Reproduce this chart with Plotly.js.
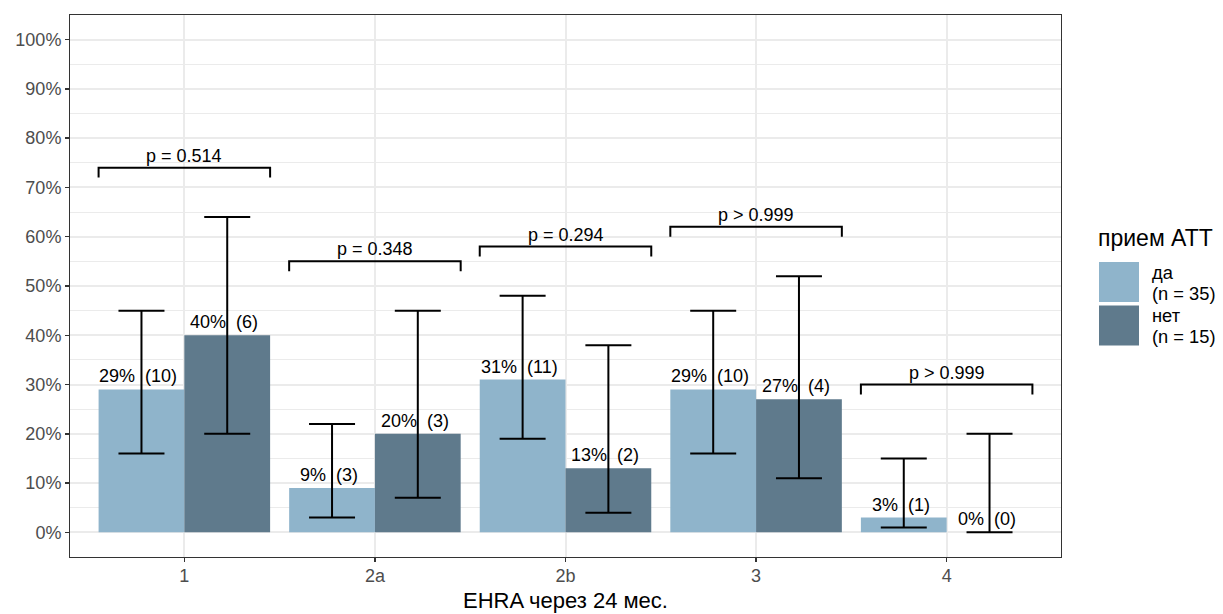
<!DOCTYPE html>
<html>
<head>
<meta charset="utf-8">
<script src="https://cdn.plot.ly/plotly-3.0.1.min.js"></script>
<style>html,body{margin:0;padding:0;background:#fff;}#chart{width:1223px;height:614px;}</style>
</head>
<body>
<div id="chart"></div>
<script>
// Data
const categories = ["1", "2a", "2b", "3", "4"];
const legendTitle = "прием АТТ";
const seriesNames = ["да", "нет"];
const seriesN = ["(n = 35)", "(n = 15)"];
const daPct = [0.29, 0.09, 0.31, 0.29, 0.03];
const daN = [10, 3, 11, 10, 1];
const daLow = [0.16, 0.03, 0.19, 0.16, 0.01];
const daHigh = [0.45, 0.22, 0.48, 0.45, 0.15];
const netPct = [0.40, 0.20, 0.13, 0.27, 0.00];
const netN = [6, 3, 2, 4, 0];
const netLow = [0.20, 0.07, 0.04, 0.11, 0.00];
const netHigh = [0.64, 0.45, 0.38, 0.52, 0.20];
const pLabels = ["p = 0.514", "p = 0.348", "p = 0.294", "p > 0.999", "p > 0.999"];
const yTickVals = [0, 0.1, 0.2, 0.3, 0.4, 0.5, 0.6, 0.7, 0.8, 0.9, 1.0];
const xTitle = "EHRA через 24 мес.";

const colDa = "#8FB4CB";
const colNet = "#5F7A8C";
const FONT = "Liberation Sans, Arial, sans-serif";
const DODGE = 0.225, BARW = 0.45;
const NB = "\u00a0\u00a0";

const pos = categories.map((c, i) => i + 1);

function barTrace(vals, lo, hi, offset, color, name) {
  return {
    type: "bar",
    name: name,
    x: pos.map(p => p + offset),
    y: vals,
    width: BARW,
    marker: {color: color, line: {width: 0}},
    showlegend: false,
    hoverinfo: "y",
    error_y: {
      type: "data", symmetric: false,
      array: vals.map((v, i) => hi[i] - v),
      arrayminus: vals.map((v, i) => v - lo[i]),
      color: "#000", thickness: 2, width: 23
    }
  };
}

const traces = [
  barTrace(daPct, daLow, daHigh, -DODGE, colDa, seriesNames[0]),
  barTrace(netPct, netLow, netHigh, DODGE, colNet, seriesNames[1])
];

const annotations = [];
const shapes = [];

function labelAnn(x, v, n) {
  annotations.push({
    x: x, y: v, xref: "x", yref: "y", xanchor: "center", yanchor: "bottom",
    text: Math.round(v * 100) + "%" + NB + "(" + n + ")", showarrow: false, xshift: -3, yshift: 1,
    font: {family: FONT, size: 18, color: "#000"}
  });
}
pos.forEach((p, i) => {
  labelAnn(p - DODGE, daPct[i], daN[i]);
  labelAnn(p + DODGE, netPct[i], netN[i]);
  const by = Math.max(daHigh[i], netHigh[i]) + 0.10;
  const x0 = p - 2 * DODGE, x1 = p + 2 * DODGE;
  shapes.push({
    type: "path", xref: "x", yref: "y",
    path: `M ${x0} ${by - 0.02} L ${x0} ${by} L ${x1} ${by} L ${x1} ${by - 0.02}`,
    line: {color: "#000", width: 2}
  });
  annotations.push({
    x: p, y: by, xref: "x", yref: "y", xanchor: "center", yanchor: "bottom",
    text: pLabels[i], showarrow: false, yshift: 0,
    font: {family: FONT, size: 18, color: "#000"}
  });
});

// manual legend (paper coords)
const L = 70, R = 1061, T = 15, B = 557;
const px = x => (x - L) / (R - L);
const py = y => (B - y) / (B - T);
function txt(x, yBase, s, size) {
  annotations.push({x: px(x), y: py(yBase - 0.33 * size), xref: "paper", yref: "paper",
    xanchor: "left", yanchor: "middle", text: s, showarrow: false,
    font: {family: FONT, size: size, color: "#000"}});
}
shapes.push({type: "rect", xref: "paper", yref: "paper", x0: px(1099), x1: px(1139), y0: py(302), y1: py(262), fillcolor: colDa, line: {width: 0}});
shapes.push({type: "rect", xref: "paper", yref: "paper", x0: px(1099), x1: px(1139), y0: py(345.5), y1: py(305.5), fillcolor: colNet, line: {width: 0}});
txt(1096, 246, legendTitle, 23);
txt(1150, 279, seriesNames[0], 18.3);
txt(1150, 300, seriesN[0], 18.3);
txt(1150, 322, seriesNames[1], 18.3);
txt(1150, 343, seriesN[1], 18.3);
// x axis title
annotations.push({x: 0.5, y: py(608 - 0.33 * 22), xref: "paper", yref: "paper", xanchor: "center", yanchor: "middle",
  borderpad: 0, text: xTitle, showarrow: false, font: {family: FONT, size: 22, color: "#000"}});

const layout = {
  width: 1223, height: 614,
  margin: {l: L, r: 1223 - R, t: T, b: 614 - B, pad: 0},
  paper_bgcolor: "#fff", plot_bgcolor: "#fff",
  barmode: "overlay",
  font: {family: FONT},
  xaxis: {
    range: [0.4, 5.6], tickvals: pos, ticktext: categories,
    showgrid: true, gridcolor: "#ebebeb", gridwidth: 2,
    zeroline: false, showline: true, mirror: true, linecolor: "#333", linewidth: 1,
    ticks: "outside", ticklen: 4, tickwidth: 1.5, tickcolor: "#333",
    ticklabelstandoff: -2,
    tickfont: {family: FONT, size: 18, color: "#4d4d4d"}
  },
  yaxis: {
    range: [-0.05, 1.05], tickvals: yTickVals, tickformat: ".0%",
    showgrid: true, gridcolor: "#ebebeb", gridwidth: 2,
    minor: {dtick: 0.05, tick0: 0.05, showgrid: true, gridcolor: "#ebebeb", gridwidth: 1, ticks: ""},
    zeroline: false, showline: true, mirror: true, linecolor: "#333", linewidth: 1,
    ticks: "outside", ticklen: 4, tickwidth: 1.5, tickcolor: "#333",
    tickfont: {family: FONT, size: 18, color: "#4d4d4d"}
  },
  shapes: shapes,
  annotations: annotations
};

Plotly.newPlot("chart", traces, layout, {displayModeBar: false, staticPlot: true});
</script>
</body>
</html>
